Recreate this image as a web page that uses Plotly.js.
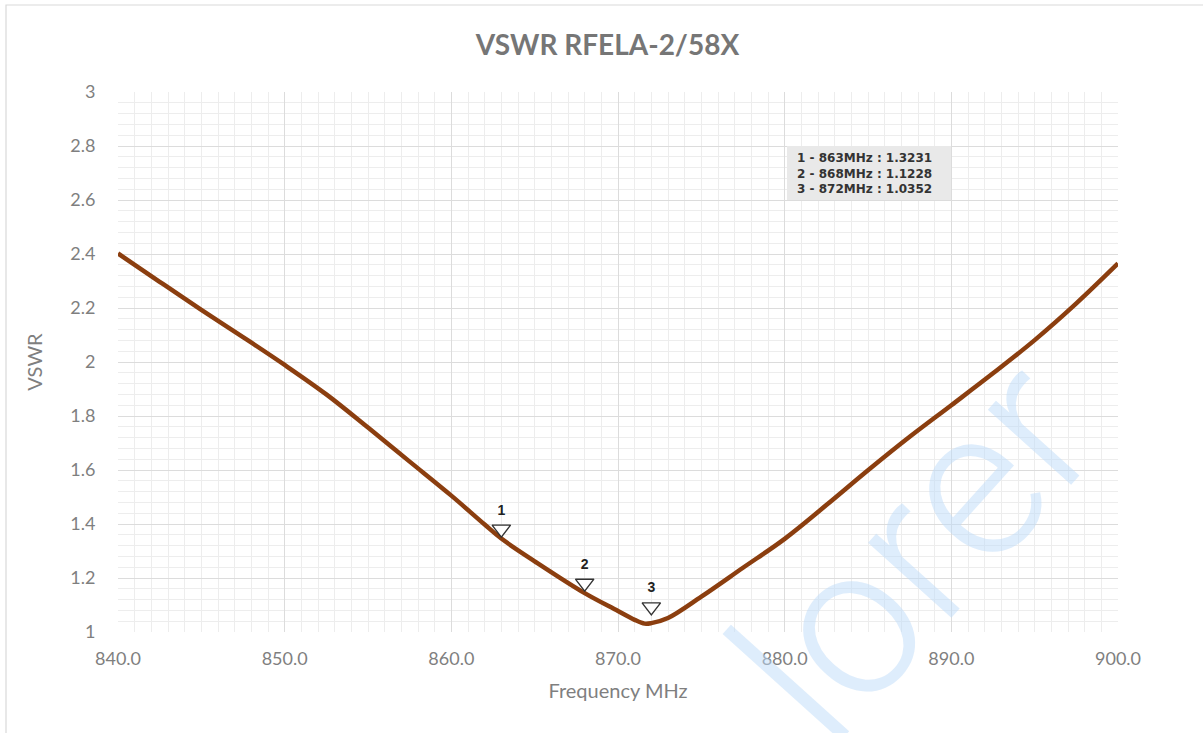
<!DOCTYPE html>
<html>
<head>
<meta charset="utf-8">
<script src="https://cdn.plot.ly/plotly-3.0.1.min.js"></script>
<style>html,body{margin:0;padding:0;background:#fff;overflow:hidden;}</style>
</head>
<body>
<div id="chart" style="width:1203px;height:733px;"></div>
<script>
const freqMHz = [840, 842.5, 845, 847.5, 850, 852.5, 855, 857.5, 860, 862, 863, 865, 868, 870, 871, 871.6, 872, 873, 875, 877.5, 880, 882.5, 885, 887.5, 890, 892.5, 895, 897.5, 900];
const vswr    = [2.402, 2.297, 2.193, 2.092, 1.989, 1.880, 1.757, 1.631, 1.505, 1.398, 1.346, 1.262, 1.144, 1.078, 1.045, 1.031, 1.033, 1.052, 1.131, 1.238, 1.345, 1.470, 1.599, 1.723, 1.840, 1.958, 2.081, 2.217, 2.365];

const markerIds   = ['1', '2', '3'];
const markerFreqs = [863, 868, 872];
const markerVals  = [1.3231, 1.1228, 1.0352];

const markerText = markerIds.map((id, i) =>
  id + ' - ' + markerFreqs[i] + 'MHz : ' + markerVals[i].toFixed(4)).join('<br>');

const curve = {
  x: freqMHz, y: vswr, type: 'scatter', mode: 'lines',
  line: {color: '#8B3E0F', width: 4.5, shape: 'spline', smoothing: 1.0},
  hoverinfo: 'x+y', showlegend: false
};

const triOffset = 0.058;
const markers = {
  x: markerFreqs, y: markerVals.map(v => v + triOffset),
  type: 'scatter', mode: 'markers+text',
  text: markerIds.map(t => '<b>' + t + '</b>'), textposition: 'top center',
  textfont: {family: 'Liberation Sans, Arial, sans-serif', size: 14, color: '#222'},
  marker: {symbol: 'triangle-down', size: 16, color: '#ffffff', line: {color: '#333333', width: 1.4}},
  showlegend: false, hoverinfo: 'skip'
};

const fontFam = 'Lato, "Open Sans", sans-serif';
const px2x = p => (p - 118) / 1000;
const px2y = p => (632 - p) / 540;
const layout = {
  width: 1203, height: 733,
  margin: {l: 118, r: 85, t: 92, b: 101},
  paper_bgcolor: '#ffffff', plot_bgcolor: '#ffffff',
  title: {
    text: '<b>VSWR RFELA-2/58X</b>',
    font: {family: fontFam, size: 28, color: '#767676'},
    x: 0.505, xanchor: 'center', y: 1 - 45/733, yanchor: 'middle', yref: 'container'
  },
  xaxis: {
    range: [840, 900], dtick: 10, tick0: 840, tickformat: '.1f',
    showgrid: true, gridcolor: '#dcdcdc', gridwidth: 1,
    minor: {dtick: 1, showgrid: true, gridcolor: '#ededed', gridwidth: 1},
    zeroline: false, showline: false,
    ticks: 'outside', ticklen: 10, tickcolor: 'rgba(0,0,0,0)',
    tickfont: {family: fontFam, size: 18, color: '#7f7f7f'},
    title: {text: 'Frequency MHz', font: {family: fontFam, size: 20, color: '#7f7f7f'}, standoff: 16}
  },
  yaxis: {
    range: [1, 3], dtick: 0.2, tick0: 1,
    showgrid: true, gridcolor: '#dcdcdc', gridwidth: 1,
    minor: {dtick: 0.04, showgrid: true, gridcolor: '#ededed', gridwidth: 1},
    zeroline: false, showline: false,
    ticks: 'outside', ticklen: 18, tickcolor: 'rgba(0,0,0,0)',
    tickfont: {family: fontFam, size: 18, color: '#7f7f7f'},
    title: {text: 'VSWR', font: {family: fontFam, size: 20, color: '#7f7f7f'}, standoff: 22}
  },
  shapes: [
    {
      type: 'rect', xref: 'paper', yref: 'paper',
      x0: px2x(6), x1: 1.3, y0: -0.4, y1: px2y(5),
      line: {color: '#d9d9d9', width: 1.2}, fillcolor: 'rgba(0,0,0,0)', layer: 'below'
    },
    {
      type: 'rect', xref: 'paper', yref: 'paper',
      x0: px2x(787), x1: px2x(951), y0: px2y(200), y1: px2y(146),
      line: {width: 0}, fillcolor: '#e9e9e9', layer: 'above'
    }
  ],
  annotations: [
    {
      xref: 'paper', yref: 'paper', x: px2x(795), y: px2y(173.5),
      xanchor: 'left', yanchor: 'middle', showarrow: false, align: 'left',
      text: '<b>' + markerText + '</b>',
      font: {family: 'DejaVu Sans, sans-serif', size: 12, color: '#333333'}
    },
    {
      xref: 'paper', yref: 'paper', x: px2x(914), y: px2y(550),
      xanchor: 'center', yanchor: 'middle', showarrow: false,
      text: 'lorer', textangle: -48,
      font: {family: 'Roboto, sans-serif', size: 212, weight: 300, color: 'rgba(190,220,250,0.5)'}
    }
  ]
};

Plotly.newPlot('chart', [curve, markers], layout, {displayModeBar: false, staticPlot: true});
</script>
</body>
</html>
